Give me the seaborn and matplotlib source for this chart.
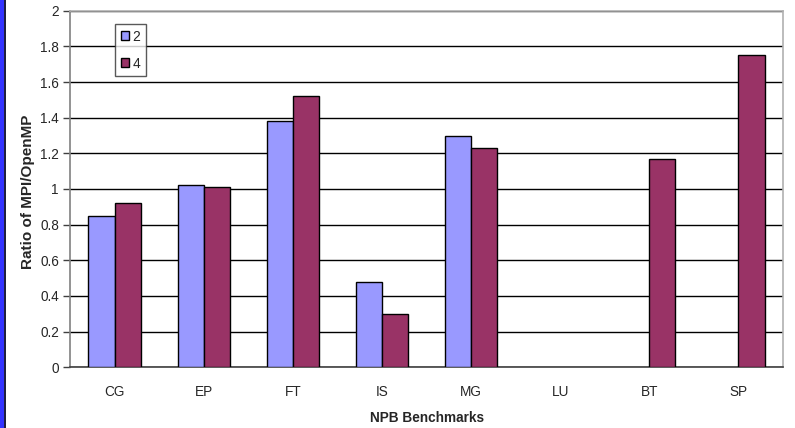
import numpy as np
import pandas as pd
import matplotlib
matplotlib.use("Agg")
import matplotlib.pyplot as plt
from matplotlib.patches import Rectangle
import seaborn as sns

benchmarks = ["CG", "EP", "FT", "IS", "MG", "LU", "BT", "SP"]
ratio_2 = [0.85, 1.02, 1.38, 0.48, 1.30, np.nan, np.nan, np.nan]
ratio_4 = [0.92, 1.01, 1.52, 0.30, 1.23, np.nan, 1.17, 1.75]
series = ["2", "4"]
y_ticks = [0, 0.2, 0.4, 0.6, 0.8, 1, 1.2, 1.4, 1.6, 1.8, 2]
y_tick_labels = ["0", "0.2", "0.4", "0.6", "0.8", "1", "1.2", "1.4", "1.6", "1.8", "2"]

df = pd.DataFrame({
    "benchmark": benchmarks * 2,
    "procs": [series[0]] * len(benchmarks) + [series[1]] * len(benchmarks),
    "ratio": ratio_2 + ratio_4,
})

sns.set_style("white")
plt.rcParams["font.family"] = ["Liberation Sans", "DejaVu Sans"]

W, H = 795, 428
fig = plt.figure(figsize=(W / 100, H / 100), dpi=100)
ax = fig.add_axes([70 / W, (H - 367.3) / H, 713 / W, 356.6 / H])

palette = {"2": "#9999FF", "4": "#993366"}
sns.barplot(data=df, x="benchmark", y="ratio", hue="procs", order=benchmarks,
            hue_order=series, palette=palette, width=0.585, saturation=1,
            edgecolor="black", linewidth=1.0, ax=ax, errorbar=None, zorder=3)

ax.set_ylim(0, 2)
ax.set_xlim(-0.5, len(benchmarks) - 0.5)
ax.set_yticks(y_ticks)
ax.set_yticklabels(y_tick_labels, fontsize=9.8)
ax.yaxis.grid(True, color="black", linewidth=1.0, zorder=0)
ax.set_axisbelow(True)

ax.set_xticks(range(len(benchmarks)))
ax.set_xticklabels(benchmarks, fontsize=9.8)
ax.tick_params(axis="x", which="major", length=0, pad=13)
ax.set_xticks(np.arange(0.5, len(benchmarks) - 0.5, 1.0), minor=True)
ax.tick_params(axis="x", which="minor", length=5, width=1, color="#404040", direction="out")
ax.tick_params(axis="y", which="major", length=5, width=1, color="#404040", direction="out", left=True, pad=3)

for side in ["top", "right"]:
    ax.spines[side].set_color("#B0B0B0")
    ax.spines[side].set_linewidth(1.2)
ax.spines["left"].set_color("#808080")
ax.spines["bottom"].set_color("#404040")
for side in ["left", "bottom"]:
    ax.spines[side].set_linewidth(1.2)

# Axis titles placed in figure pixels
ax.set_xlabel("NPB Benchmarks", fontsize=9.8, fontweight="bold")
ax.xaxis.set_label_coords((70 + 713 / 2) / W, 1 - 411 / H, transform=fig.transFigure)
ax.set_ylabel("Ratio of MPI/OpenMP", fontsize=11, fontweight="bold")
ax.yaxis.set_label_coords(35 / W, 1 - 191.5 / H, transform=fig.transFigure)

handles, labels = ax.get_legend_handles_labels()
leg = ax.legend(handles, labels, loc="upper left",
                bbox_to_anchor=(115 / W, 1 - 24 / H), bbox_transform=fig.transFigure,
                frameon=True, fancybox=False, fontsize=10, handlelength=0.6,
                handleheight=0.6, handletextpad=0.25, labelspacing=0.95,
                borderpad=0.4, borderaxespad=0)
leg.get_frame().set_edgecolor("#303030")
leg.get_frame().set_linewidth(1.0)

# Blue band along the left edge of the slide
fig.patches.append(Rectangle((0, 0), 4 / W, 1, transform=fig.transFigure,
                             facecolor="#3333FF", edgecolor="none", zorder=10))
fig.patches.append(Rectangle((4 / W, 0), 1.5 / W, 1, transform=fig.transFigure,
                             facecolor="#202040", edgecolor="none", zorder=10))

fig.savefig("out.png", dpi=100)
